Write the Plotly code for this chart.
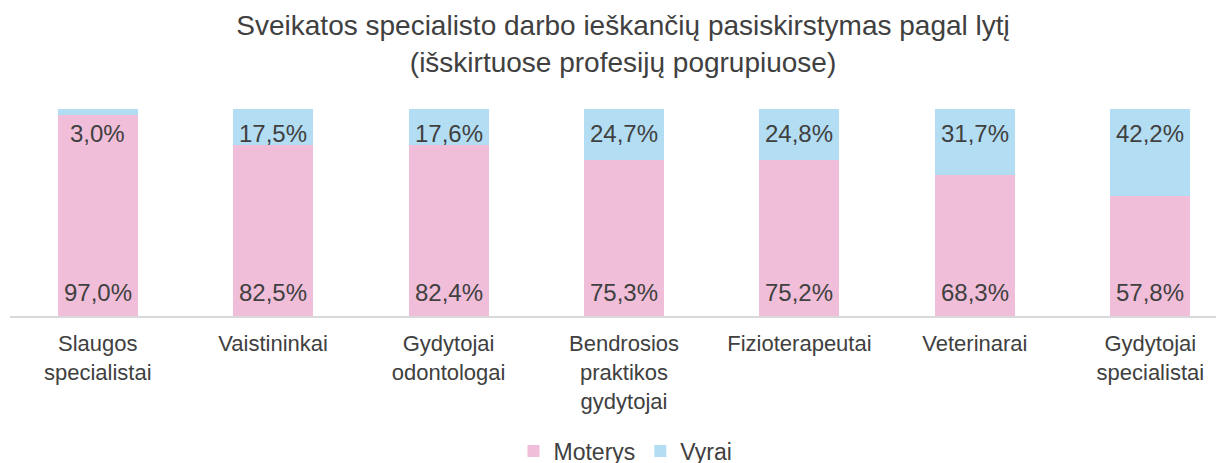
import plotly.graph_objects as go

categories = ["Slaugos specialistai", "Vaistininkai", "Gydytojai odontologai",
              "Bendrosios praktikos gydytojai", "Fizioterapeutai", "Veterinarai",
              "Gydytojai specialistai"]
tick_labels = ["Slaugos<br>specialistai", "Vaistininkai", "Gydytojai<br>odontologai",
               "Bendrosios<br>praktikos<br>gydytojai", "Fizioterapeutai", "Veterinarai",
               "Gydytojai<br>specialistai"]
moterys = [97.0, 82.5, 82.4, 75.3, 75.2, 68.3, 57.8]
vyrai = [3.0, 17.5, 17.6, 24.7, 24.8, 31.7, 42.2]

PINK = "#F0BED9"
BLUE = "#B3DDF3"
TXT = "#404040"
FONT = "Liberation Sans, Arial, sans-serif"

def fmt(v):
    return f"{v:.1f}".replace(".", ",") + "%"

fig = go.Figure()
fig.add_trace(go.Bar(x=categories, y=moterys, name="Moterys", marker=dict(color=PINK, line=dict(width=0))))
fig.add_trace(go.Bar(x=categories, y=vyrai, name="Vyrai", marker=dict(color=BLUE, line=dict(width=0))))

annotations = []
for c, m, v in zip(categories, moterys, vyrai):
    annotations.append(dict(x=c, y=0, xref="x", yref="y", text=fmt(m), showarrow=False,
                            yanchor="bottom", yshift=8, font=dict(size=24, color=TXT, family=FONT)))
    annotations.append(dict(x=c, y=m + v, xref="x", yref="y", text=fmt(v), showarrow=False,
                            yanchor="top", yshift=-9, font=dict(size=24, color=TXT, family=FONT)))

fig.update_layout(
    barmode="stack",
    bargap=0.544,
    width=1224, height=463,
    margin=dict(l=2, r=8, t=101, b=155, autoexpand=False),
    paper_bgcolor="white", plot_bgcolor="white",
    font=dict(family=FONT, color=TXT),
    title=dict(text="Sveikatos specialisto darbo ieškančių pasiskirstymas pagal lytį<br>(išskirtuose profesijų pogrupiuose)",
               x=0.5025, xanchor="center", y=0.941, yanchor="top",
               font=dict(size=28, color=TXT, family=FONT)),
    xaxis=dict(tickmode="array", tickvals=categories, ticktext=tick_labels,
               range=[-0.5, 6.42], showline=True, linecolor="#D9D9D9", linewidth=2,
               ticks="", tickfont=dict(size=22, color=TXT, family=FONT), showgrid=False,
               ticklabelstandoff=7, automargin=False),
    yaxis=dict(range=[0, 100], visible=False, showgrid=False),
    legend=dict(orientation="h", x=0.507, xanchor="center", yref="container", y=0.043, yanchor="middle",
                font=dict(size=23, color=TXT, family=FONT), itemwidth=30, traceorder="normal"),
    annotations=annotations,
    showlegend=True,
)

fig.write_html("out.html")
